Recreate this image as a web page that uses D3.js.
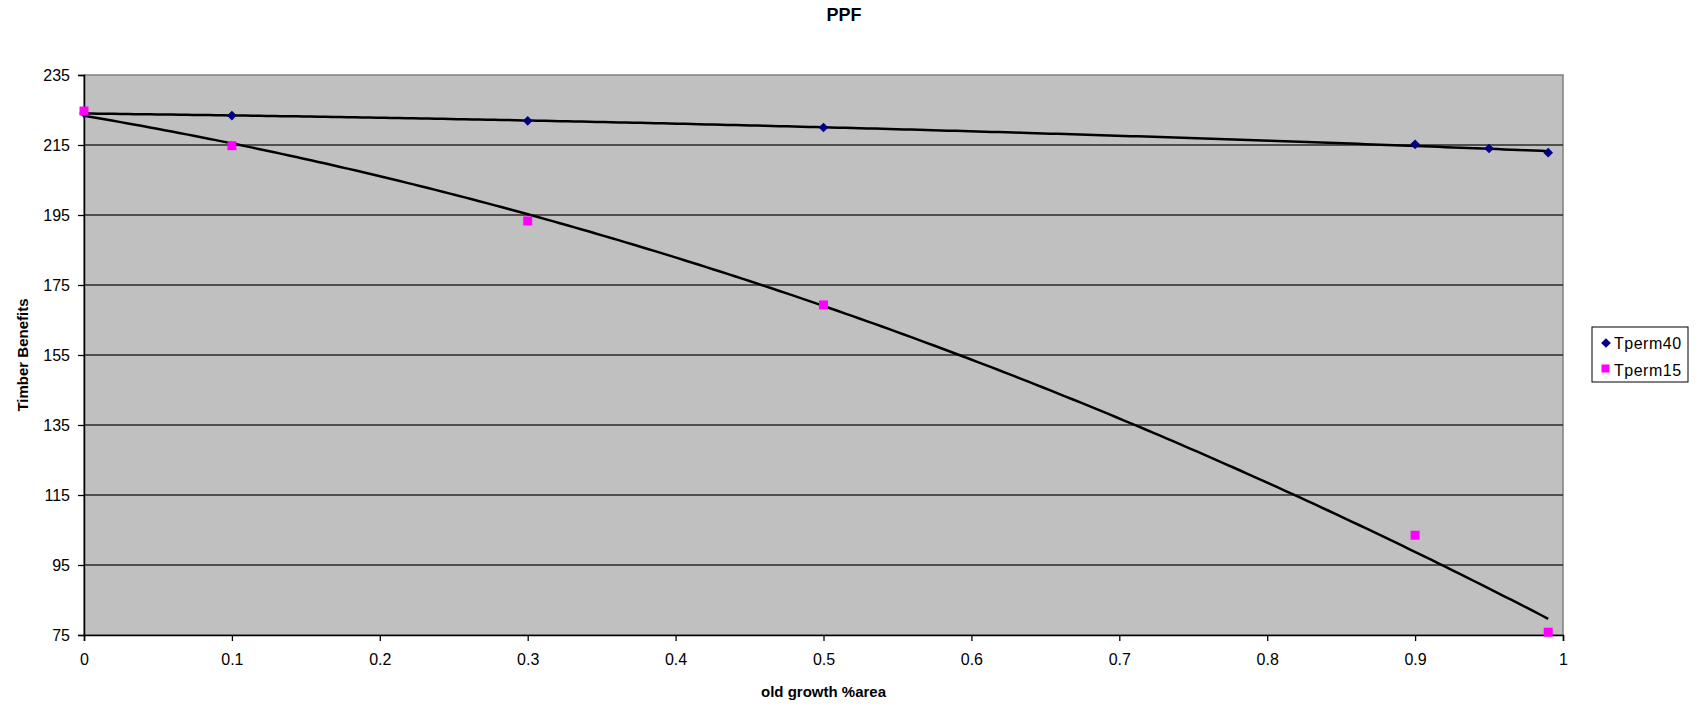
<!DOCTYPE html>
<html>
<head>
<meta charset="utf-8">
<script src="https://cdn.jsdelivr.net/npm/d3@7"></script>
<style>
  html, body { margin: 0; padding: 0; background: #fff; }
  svg { display: block; font-family: Arial, "Liberation Sans", sans-serif; }
</style>
</head>
<body>
<svg id="chart" width="1708" height="706"></svg>
<script>
// ---- data ----
const title = "PPF";
const xTitle = "old growth %area";
const yTitle = "Timber Benefits";
const seriesNames = ["Tperm40", "Tperm15"];
const tperm40X = [0, 0.1, 0.3, 0.5, 0.9, 0.95, 0.99];
const tperm40Y = [224.1, 223.4, 221.9, 220.0, 215.2, 214.0, 212.8];
const tperm15X = [0, 0.1, 0.3, 0.5, 0.9, 0.99];
const tperm15Y = [224.7, 214.8, 193.3, 169.3, 103.5, 75.8];
const yTicks = [75, 95, 115, 135, 155, 175, 195, 215, 235];
const xTicks = [0, 0.1, 0.2, 0.3, 0.4, 0.5, 0.6, 0.7, 0.8, 0.9, 1];
const trendOrder = 2; // polynomial trendline order

// ---- layout ----
const svg = d3.select("#chart");
const L = 84, T = 75, W = 1479, H = 560;
const x = d3.scaleLinear().domain([0, 1]).range([L, L + W]);
const y = d3.scaleLinear().domain([75, 235]).range([T + H, T]);

// plot background
svg.append("rect").attr("x", L).attr("y", T).attr("width", W).attr("height", H)
  .attr("fill", "#C0C0C0").attr("stroke", "#808080").attr("stroke-width", 1.5);

// gridlines
svg.append("g").selectAll("line").data(yTicks.filter(d => d > 75 && d < 235)).join("line")
  .attr("x1", L).attr("x2", L + W).attr("y1", d => y(d)).attr("y2", d => y(d))
  .attr("stroke", "#2a2a2a").attr("stroke-width", 1.3);

// axes
const yAxis = d3.axisLeft(y).tickValues(yTicks).tickFormat(d3.format("d")).tickSize(6).tickPadding(8);
const gy = svg.append("g").attr("transform", `translate(${L},0)`).call(yAxis);
const xAxis = d3.axisBottom(x).tickValues(xTicks).tickFormat(d => d === 0 ? "0" : (d === 1 ? "1" : d3.format(".1f")(d))).tickSize(6).tickPadding(13);
const gx = svg.append("g").attr("transform", `translate(0,${T + H})`).call(xAxis);
[gx, gy].forEach(g => {
  g.select(".domain").attr("stroke", "#000").attr("stroke-width", 1.5);
  g.selectAll(".tick line").attr("stroke", "#000").attr("stroke-width", 1.3);
  g.selectAll("text").attr("font-size", 16).attr("fill", "#000")
    .attr("font-family", "Arial, 'Liberation Sans', sans-serif");
});

// polynomial least-squares trendline (as the spreadsheet computes it)
function polyFit(xs, ys, order) {
  const n = order + 1;
  const A = Array.from({length: n}, () => new Array(n + 1).fill(0));
  for (let r = 0; r < n; r++) {
    for (let c = 0; c < n; c++) A[r][c] = d3.sum(xs, v => Math.pow(v, r + c));
    A[r][n] = d3.sum(xs, (v, i) => Math.pow(v, r) * ys[i]);
  }
  for (let i = 0; i < n; i++) {
    let p = i;
    for (let k = i + 1; k < n; k++) if (Math.abs(A[k][i]) > Math.abs(A[p][i])) p = k;
    [A[i], A[p]] = [A[p], A[i]];
    for (let k = i + 1; k < n; k++) {
      const f = A[k][i] / A[i][i];
      for (let c = i; c <= n; c++) A[k][c] -= f * A[i][c];
    }
  }
  const coef = new Array(n).fill(0);
  for (let i = n - 1; i >= 0; i--) {
    let s = A[i][n];
    for (let c = i + 1; c < n; c++) s -= A[i][c] * coef[c];
    coef[i] = s / A[i][i];
  }
  return v => coef.reduce((acc, k, i) => acc + k * Math.pow(v, i), 0);
}

const line = d3.line().x(d => x(d[0])).y(d => y(d[1]));
[[tperm40X, tperm40Y], [tperm15X, tperm15Y]].forEach(([xs, ys]) => {
  const f = polyFit(xs, ys, trendOrder);
  const x0 = d3.min(xs), x1 = d3.max(xs);
  const pts = d3.range(0, 201).map(i => { const v = x0 + (x1 - x0) * i / 200; return [v, f(v)]; });
  svg.append("path").datum(pts).attr("d", line)
    .attr("fill", "none").attr("stroke", "#000").attr("stroke-width", 2.5);
});

// markers
const diamond = d3.symbol().type(d3.symbolDiamond2).size(60);
svg.append("g").selectAll("path").data(tperm40X.map((v, i) => [v, tperm40Y[i]])).join("path")
  .attr("d", diamond).attr("transform", d => `translate(${x(d[0])},${y(d[1])})`)
  .attr("fill", "#000080");
svg.append("g").selectAll("rect").data(tperm15X.map((v, i) => [v, tperm15Y[i]])).join("rect")
  .attr("x", d => x(d[0]) - 4.5).attr("y", d => y(d[1]) - 4.5)
  .attr("width", 9).attr("height", 9).attr("fill", "#FF00FF");

// titles
svg.append("text").attr("x", 844).attr("y", 21).attr("text-anchor", "middle")
  .attr("font-size", 18).attr("font-weight", "bold").text(title);
svg.append("text").attr("x", L + W / 2).attr("y", 697).attr("text-anchor", "middle")
  .attr("font-size", 15).attr("font-weight", "bold").text(xTitle);
svg.append("text").attr("transform", `translate(28,${T + H / 2}) rotate(-90)`)
  .attr("text-anchor", "middle").attr("font-size", 15).attr("font-weight", "bold").text(yTitle);

// legend
const lg = svg.append("g");
lg.append("rect").attr("x", 1592).attr("y", 327).attr("width", 96).attr("height", 55)
  .attr("fill", "#fff").attr("stroke", "#000").attr("stroke-width", 1);
lg.append("path").attr("d", diamond).attr("transform", "translate(1606,343)").attr("fill", "#000080");
lg.append("rect").attr("x", 1601.5).attr("y", 364.5).attr("width", 8).attr("height", 8).attr("fill", "#FF00FF");
seriesNames.forEach((s, i) => {
  lg.append("text").attr("x", 1614).attr("y", 349 + i * 27).attr("font-size", 16)
    .attr("letter-spacing", 0.5).text(s);
});
</script>
</body>
</html>
